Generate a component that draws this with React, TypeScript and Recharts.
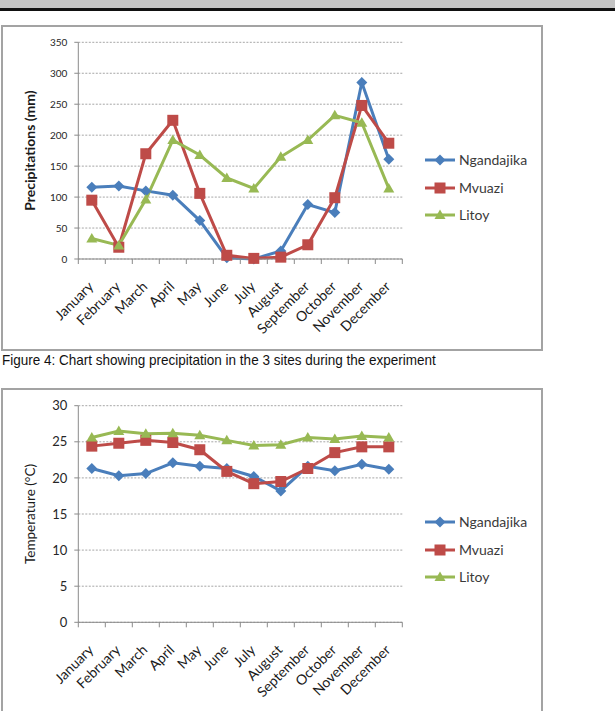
import React from 'react';
import { LineChart, Line, XAxis, YAxis, CartesianGrid, Legend } from 'recharts';

const months = [
  'January', 'February', 'March', 'April', 'May', 'June',
  'July', 'August', 'September', 'October', 'November', 'December',
];

const siteNames = ['Ngandajika', 'Mvuazi', 'Litoy'];

// Monthly precipitation (mm)
const precipNgandajika = [116, 118, 110, 103, 62, 2, 0, 13, 88, 75, 285, 161];
const precipMvuazi = [95, 19, 170, 224, 106, 6, 1, 3, 23, 99, 248, 187];
const precipLitoy = [33, 22, 96, 192, 168, 131, 114, 165, 192, 232, 220, 114];

// Monthly mean temperature (°C)
const tempNgandajika = [21.3, 20.3, 20.6, 22.1, 21.6, 21.3, 20.2, 18.2, 21.6, 21.0, 21.9, 21.2];
const tempMvuazi = [24.4, 24.8, 25.2, 24.9, 23.9, 20.9, 19.2, 19.5, 21.3, 23.5, 24.3, 24.3];
const tempLitoy = [25.6, 26.5, 26.1, 26.2, 25.9, 25.2, 24.5, 24.6, 25.6, 25.4, 25.8, 25.6];

const precipTicks = [0, 50, 100, 150, 200, 250, 300, 350];
const tempTicks = [0, 5, 10, 15, 20, 25, 30];

const COLORS = ['#4A7EBB', '#BE4B48', '#98B954'];
const FONT = 'Lato, "Open Sans", sans-serif';
const AXIS_GRAY = '#8a8a8a';

// Month slots on a 0..12 numeric axis: points sit in the middle of each slot.
const buildRows = (a: number[], b: number[], c: number[]) =>
  months.map((m, i) => ({ pos: i + 0.5, month: m, s0: a[i], s1: b[i], s2: c[i] }));

const precipRows = buildRows(precipNgandajika, precipMvuazi, precipLitoy);
const tempRows = buildRows(tempNgandajika, tempMvuazi, tempLitoy);

// Slot boundaries (integers) get a tick mark, slot centres get the month name.
const xTicks: number[] = [];
for (let i = 0; i <= 24; i++) xTicks.push(i / 2);

const MonthTick = (props: any) => {
  const { x, y, payload } = props;
  const v = payload.value as number;
  if (Number.isInteger(v)) {
    return <line x1={x} x2={x} y1={y} y2={y + 5} stroke={AXIS_GRAY} strokeWidth={1} />;
  }
  const label = months[Math.floor(v)];
  const tx = x + 2.5;
  const ty = y + 28.5;
  return (
    <text
      x={tx}
      y={ty}
      textAnchor="end"
      transform={`rotate(-45 ${tx} ${ty})`}
      fontFamily={FONT}
      fontSize={14}
      fill="#1a1a1a"
    >
      {label}
    </text>
  );
};

type MarkerProps = { cx?: number; cy?: number; color: string; kind: number };

const Marker = ({ cx, cy, color, kind }: MarkerProps) => {
  if (cx == null || cy == null) return null;
  if (kind === 0) {
    const r = 5.5;
    return <polygon points={`${cx},${cy - r} ${cx + r},${cy} ${cx},${cy + r} ${cx - r},${cy}`} fill={color} />;
  }
  if (kind === 1) {
    const h = 5.5;
    return <rect x={cx - h} y={cy - h} width={2 * h} height={2 * h} fill={color} />;
  }
  const w = 5.5;
  return <polygon points={`${cx},${cy - 5.5} ${cx + w},${cy + 4} ${cx - w},${cy + 4}`} fill={color} />;
};

const renderDot = (kind: number) => (p: any) =>
  <Marker key={`m${kind}-${p.index}`} cx={p.cx} cy={p.cy} color={COLORS[kind]} kind={kind} />;

const SiteLegend = () => (
  <div style={{ fontFamily: FONT }}>
    {siteNames.map((name, i) => (
      <div key={name} style={{ display: 'flex', alignItems: 'center', height: 27.6 }}>
        <svg width={31} height={14} style={{ display: 'block' }}>
          <line x1={0} x2={30} y1={7} y2={7} stroke={COLORS[i]} strokeWidth={3} />
          <Marker cx={15} cy={7} color={COLORS[i]} kind={i} />
        </svg>
        <span style={{ fontSize: 14, color: '#3a3a3a', marginLeft: 3, lineHeight: '14px' }}>{name}</span>
      </div>
    ))}
  </div>
);

type PanelProps = {
  rows: any[];
  ticks: number[];
  max: number;
  title: string;
  titleBold: boolean;
  tickFont: number;
  height: number;
  top: number;
  bottom: number;
  legendTop: number;
};

const Panel = ({ rows, ticks, max, title, titleBold, tickFont, height, top, bottom, legendTop }: PanelProps) => (
  <LineChart
    width={541}
    height={height}
    data={rows}
    margin={{ top, right: 138.7, bottom, left: 18.3 }}
  >
    <CartesianGrid vertical={false} stroke="#8f8f8f" strokeDasharray="2 1.5" strokeWidth={0.8} />
    <XAxis
      dataKey="pos"
      type="number"
      domain={[0, 12]}
      ticks={xTicks}
      interval={0}
      tick={<MonthTick />}
      tickLine={false}
      tickSize={0}
      tickMargin={0}
      height={60}
      axisLine={{ stroke: AXIS_GRAY, strokeWidth: 1 }}
    />
    <YAxis
      type="number"
      domain={[0, max]}
      ticks={ticks}
      interval={0}
      width={60}
      tickSize={4}
      tickMargin={7}
      axisLine={{ stroke: AXIS_GRAY, strokeWidth: 1 }}
      tickLine={{ stroke: AXIS_GRAY }}
      tick={{ fontFamily: FONT, fontSize: tickFont, fill: '#262626' }}
      label={{
        value: title,
        angle: -90,
        position: 'insideLeft',
        offset: 12,
        style: {
          textAnchor: 'middle',
          fontFamily: FONT,
          fontSize: titleBold ? 14 : 13.5,
          fontWeight: titleBold ? 700 : 400,
          fill: '#1a1a1a',
        },
      }}
    />
    <Legend
      layout="vertical"
      align="center"
      verticalAlign="middle"
      content={<SiteLegend />}
      wrapperStyle={{ position: 'absolute', left: 425, top: legendTop, width: 110 }}
    />
    {[0, 1, 2].map((k) => (
      <Line
        key={k}
        dataKey={`s${k}`}
        name={siteNames[k]}
        stroke={COLORS[k]}
        strokeWidth={3}
        dot={renderDot(k)}
        activeDot={false}
        isAnimationActive={false}
      />
    ))}
  </LineChart>
);

const boxStyle: React.CSSProperties = {
  position: 'absolute',
  left: 1,
  width: 538,
  border: '2px solid #a3a3a3',
  boxSizing: 'content-box',
  background: '#fff',
};

export default function App() {
  return (
    <div style={{ position: 'fixed', left: 0, top: 0, width: 615, height: 711, background: '#fff', overflow: 'hidden' }}>
      <div style={{ position: 'absolute', left: 0, top: 0, width: 615, height: 7.5, background: '#c4c4c4' }} />
      <div style={{ position: 'absolute', left: 0, top: 7.5, width: 615, height: 3, background: '#111' }} />

      <div style={{ ...boxStyle, top: 25, height: 322 }} />
      <div style={{ position: 'absolute', left: 0, top: 0 }}>
        <Panel
          rows={precipRows}
          ticks={precipTicks}
          max={350}
          title="Precipitations (mm)"
          titleBold
          tickFont={10}
          height={349}
          top={42.3}
          bottom={30}
          legendTop={146.2}
        />
      </div>

      <div
        style={{
          position: 'absolute',
          left: 2,
          top: 351,
          fontFamily: '"Liberation Sans", Arial, sans-serif',
          fontSize: 15,
          color: '#111',
          whiteSpace: 'nowrap',
          transform: 'scaleX(0.9)',
          transformOrigin: '0 0',
        }}
      >
        Figure 4: Chart showing precipitation in the 3 sites during the experiment
      </div>

      <div style={{ ...boxStyle, top: 388, height: 340 }} />
      <div style={{ position: 'absolute', left: 0, top: 385 }}>
        <Panel
          rows={tempRows}
          ticks={tempTicks}
          max={30}
          title="Temperature (°C)"
          titleBold={false}
          tickFont={13}
          height={326}
          top={20.7}
          bottom={28.7}
          legendTop={123.5}
        />
      </div>
    </div>
  );
}
